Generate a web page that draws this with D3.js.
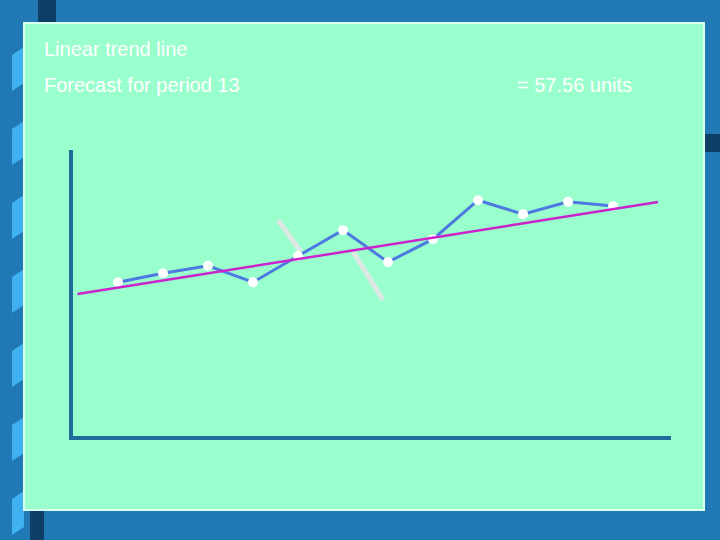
<!DOCTYPE html>
<html><head><meta charset="utf-8">
<script src="https://cdn.jsdelivr.net/npm/d3@7"></script>
<style>body{margin:0;background:#2079b4}</style>
</head><body>
<script>
// chart data
var periods = [1,2,3,4,5,6,7,8,9,10,11,12];
var demand = [38.0,40.2,42.0,38.0,44.4,50.7,42.9,48.5,58.0,54.6,57.6,56.6];
var trendPeriods = [0.1,13];
var trendValues = [35.1,57.56];
var title = "Linear trend line";
var forecastLabel = "Forecast for period 13";
var forecastValue = "= 57.56 units";

var svg = d3.select("body").append("svg").attr("width",720).attr("height",540);

// slide decoration
svg.append("rect").attr("width",720).attr("height",540).attr("fill","#2079b4");
svg.append("rect").attr("x",38).attr("y",0).attr("width",18).attr("height",24).attr("fill","#0d3f66");
svg.append("rect").attr("x",704).attr("y",134).attr("width",16).attr("height",18).attr("fill","#0d3f66");
svg.append("rect").attr("x",30).attr("y",510).attr("width",14).attr("height",30).attr("fill","#0d3f66");
for (var i=0;i<7;i++){
  var ty = 55 + i*74;
  svg.append("path").attr("d","M12,"+ty+" L24,"+(ty-8)+" L24,"+(ty+28)+" L12,"+(ty+36)+"Z").attr("fill","#3fb0f0");
}
svg.append("rect").attr("x",24).attr("y",23).attr("width",680).attr("height",487)
  .attr("fill","#99ffcc").attr("stroke","#d8fff0").attr("stroke-width",2);

svg.append("text").attr("x",44).attr("y",56).text(title)
  .attr("font-family","Liberation Sans, Arial, sans-serif").attr("font-size","20px").attr("fill","white");
svg.append("text").attr("x",44).attr("y",92).text(forecastLabel)
  .attr("font-family","Liberation Sans, Arial, sans-serif").attr("font-size","20px").attr("fill","white");
svg.append("text").attr("x",517).attr("y",92).text(forecastValue)
  .attr("font-family","Liberation Sans, Arial, sans-serif").attr("font-size","20px").attr("fill","white");

var x = d3.scaleLinear().domain([0,13]).range([73,658]);
var y = d3.scaleLinear().domain([0,70]).range([438,151]);

// break marks
svg.append("line").attr("x1",278).attr("y1",220).attr("x2",301).attr("y2",252)
  .attr("stroke","#dde8e4").attr("stroke-width",5);
svg.append("line").attr("x1",352).attr("y1",250).attr("x2",383).attr("y2",300)
  .attr("stroke","#dde8e4").attr("stroke-width",5);

// axes
svg.append("line").attr("x1",71).attr("y1",150).attr("x2",71).attr("y2",438)
  .attr("stroke","#1f6b99").attr("stroke-width",4);
svg.append("line").attr("x1",69).attr("y1",438).attr("x2",671).attr("y2",438)
  .attr("stroke","#1f6b99").attr("stroke-width",4);

var line = d3.line().x(function(d){return x(d[0]);}).y(function(d){return y(d[1]);});
var pts = periods.map(function(p,i){return [p,demand[i]];});
svg.append("path").attr("d",line(pts)).attr("fill","none")
  .attr("stroke","#4d79e0").attr("stroke-width",3);
svg.selectAll("circle").data(pts).enter().append("circle")
  .attr("cx",function(d){return x(d[0]);}).attr("cy",function(d){return y(d[1]);})
  .attr("r",5).attr("fill","white");
svg.append("path").attr("d",line(trendPeriods.map(function(p,i){return [p,trendValues[i]];})))
  .attr("fill","none").attr("stroke","#cc22cc").attr("stroke-width",2.5);
</script>
</body></html>
